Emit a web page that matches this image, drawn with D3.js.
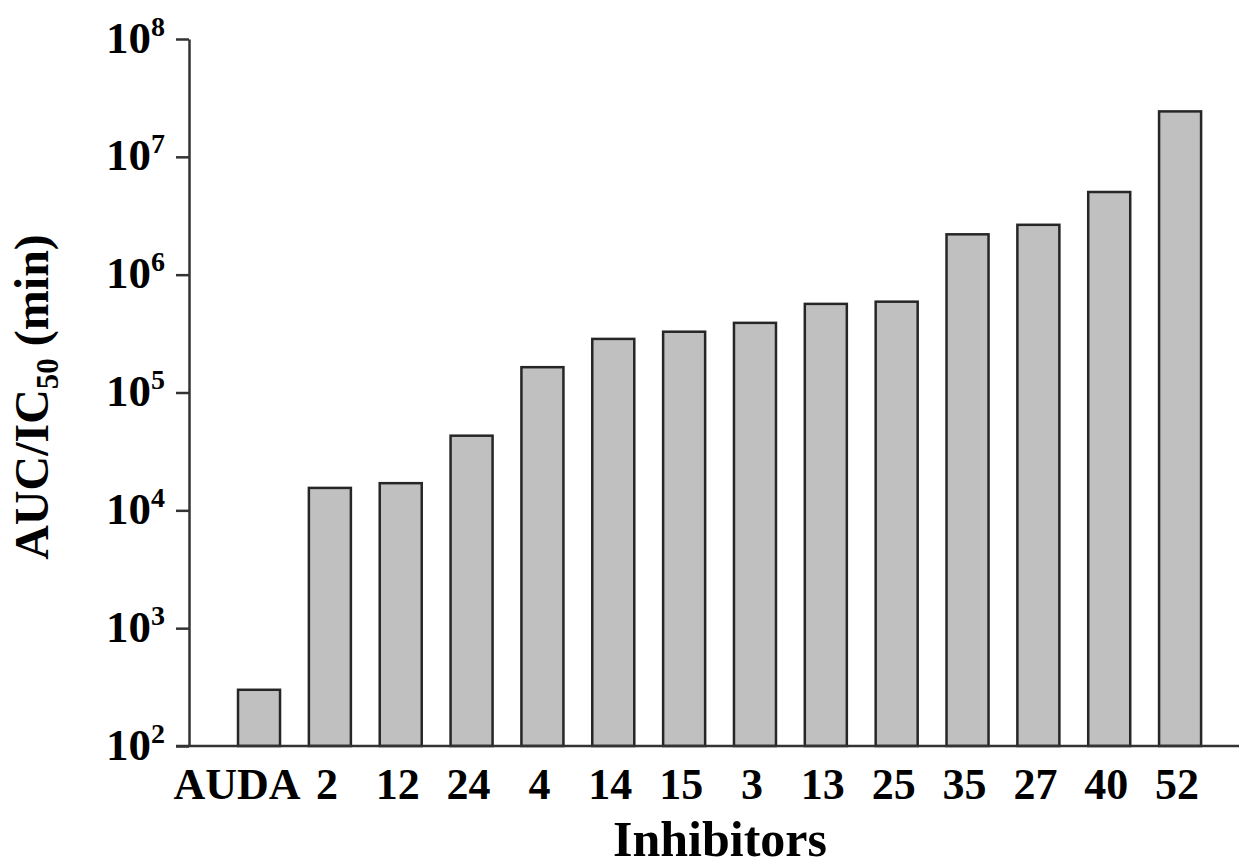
<!DOCTYPE html>
<html>
<head>
<meta charset="utf-8">
<script src="https://cdn.jsdelivr.net/npm/d3@7"></script>
<style>
  body { margin: 0; background: #fff; }
  svg text { font-family: "Liberation Serif", "DejaVu Serif", serif; font-weight: bold; fill: #000; }
</style>
</head>
<body>
<svg id="chart" width="1239" height="867"></svg>
<script>
// inhibitors in plotted order
const inhibitors = ["AUDA", "2", "12", "24", "4", "14", "15", "3", "13", "25", "35", "27", "40", "52"];
// AUC/IC50 in minutes
const aucIc50 = [300, 15500, 17000, 43000, 164000, 285000, 328000, 390000, 565000, 590000, 2200000, 2650000, 5030000, 24300000];
const yTickExponents = [2, 3, 4, 5, 6, 7, 8];

const data = inhibitors.map((name, i) => ({ name, value: aucIc50[i] }));

const svg = d3.select("#chart");

const yBase = 746, yTop = 39;
const axisX = 189;

const y = d3.scaleLog().domain([1e2, 1e8]).range([yBase, yTop]);

const x = d3.scaleBand()
  .domain(inhibitors)
  .range([223.6, 1215.5])
  .paddingInner(0.407)
  .paddingOuter(0.2035);

// bars
svg.append("g")
  .selectAll("rect")
  .data(data)
  .enter().append("rect")
  .attr("x", d => x(d.name))
  .attr("y", d => y(d.value))
  .attr("width", x.bandwidth())
  .attr("height", d => y(1e2) - y(d.value))
  .style("fill", "#c0c0c0")
  .style("stroke", "#262626")
  .style("stroke-width", 2.5);

// y axis
const yAxis = svg.append("g")
  .attr("transform", `translate(${axisX},0)`)
  .call(d3.axisLeft(y)
    .tickValues(yTickExponents.map(e => Math.pow(10, e)))
    .tickSize(13)
    .tickSizeOuter(0)
    .tickFormat(""));

yAxis.select(".domain").attr("stroke", "#333").attr("stroke-width", 2.5);
yAxis.selectAll(".tick line").attr("stroke", "#333").attr("stroke-width", 2.5);

yAxis.selectAll(".tick").each(function(d) {
  const t = d3.select(this).select("text")
    .attr("x", -24)
    .attr("dy", 13)
    .attr("text-anchor", "end");
  t.text(null);
  t.append("tspan").style("font-size", "45px").text("10");
  t.append("tspan").style("font-size", "28px").attr("dy", -17)
    .text(Math.round(Math.log10(d)));
});

// x axis line
svg.append("line")
  .attr("x1", 176).attr("x2", 1239)
  .attr("y1", yBase).attr("y2", yBase)
  .attr("stroke", "#333").attr("stroke-width", 2.5);

const xAxis = svg.append("g")
  .attr("transform", `translate(0,${yBase})`)
  .call(d3.axisBottom(x).tickSize(0));

xAxis.select(".domain").remove();
xAxis.selectAll(".tick text")
  .attr("y", 53)
  .attr("dy", 0)
  .attr("dx", (d, i) => i === 0 ? -22 : -3)
  .style("font-size", "44px");

// axis titles
svg.append("text")
  .attr("x", 720)
  .attr("y", 856)
  .attr("text-anchor", "middle")
  .style("font-size", "50px")
  .text("Inhibitors");

const yTitle = svg.append("text")
  .attr("transform", "translate(48,397) rotate(-90)")
  .attr("text-anchor", "middle")
  .style("font-size", "48px");
yTitle.append("tspan").text("AUC/IC");
yTitle.append("tspan").attr("dy", 10).style("font-size", "31px").text("50");
yTitle.append("tspan").attr("dy", -10).text(" (min)");
</script>
</body>
</html>
